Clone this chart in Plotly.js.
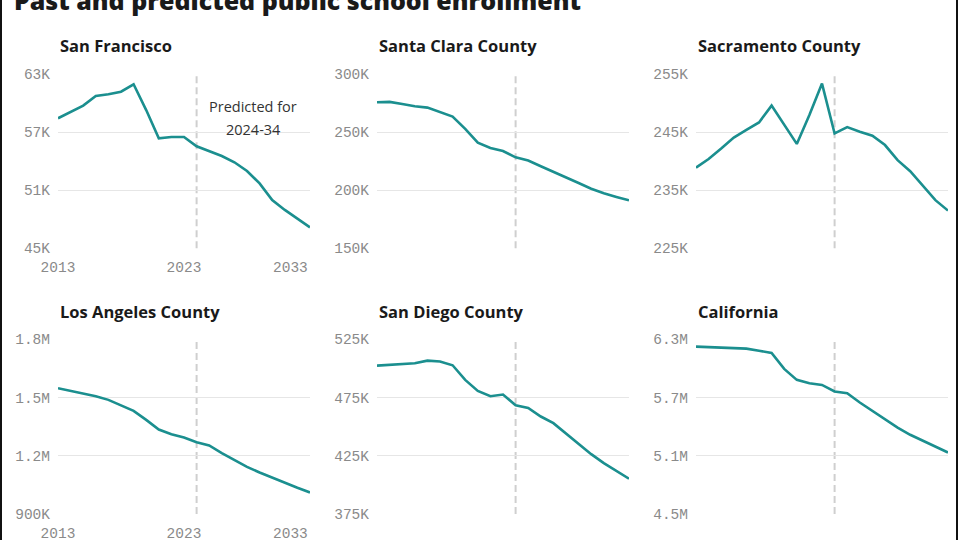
<!DOCTYPE html>
<html><head><meta charset="utf-8">
<script src="https://cdn.plot.ly/plotly-3.0.1.min.js"></script>
<style>html,body{margin:0;padding:0;background:#fff}#chart{width:960px;height:540px}</style>
</head><body><div id="chart"></div>
<script>
const chartTitle = "Past and predicted public school enrollment";
const years = [2013,2014,2015,2016,2017,2018,2019,2020,2021,2022,2023,2024,2025,2026,2027,2028,2029,2030,2031,2032,2033];
const predictionStart = 2024;
const predictionNoteLines = ["Predicted for", "2024-34"];
const panelTitles = ["San Francisco","Santa Clara County","Sacramento County","Los Angeles County","San Diego County","California"];

const sanFrancisco = [58450,59100,59760,60760,60930,61200,61970,59300,56380,56520,56520,55550,55070,54550,53900,53000,51720,50000,48970,48100,47170];
const santaClara = [275900,276200,274400,272400,271300,267500,263500,252900,241100,236500,233900,228400,225600,220700,216100,211200,206300,201400,197400,194300,191400];
const sacramento = [238900,240400,242200,244100,245400,246700,249600,246300,243000,248000,253400,244800,245900,245100,244400,242800,240200,238300,235800,233300,231500];
const losAngeles = [1548000,1534000,1519000,1507000,1488000,1461000,1431000,1385000,1335000,1311000,1294000,1270000,1253000,1214000,1178000,1143000,1114000,1087000,1061000,1035000,1011000];
const sanDiego = [502400,503000,503600,504400,506700,505900,502700,490100,480700,476100,477600,468400,466100,458700,453000,444400,435300,426400,418700,412100,405300];
const california = [6225000,6221000,6214000,6214000,6204000,6183000,6159000,5995000,5882000,5847000,5830000,5762000,5745000,5649000,5563000,5477000,5391000,5316000,5254000,5193000,5134000];

const yTickVals = [[45000,51000,57000,63000],[150000,200000,250000,300000],[225000,235000,245000,255000],[900000,1200000,1500000,1800000],[375000,425000,475000,525000],[4500000,5100000,5700000,6300000]];
const yTickText = [["45K","51K","57K","63K"],["150K","200K","250K","300K"],["225K","235K","245K","255K"],["900K","1.2M","1.5M","1.8M"],["375K","425K","475K","525K"],["4.5M","5.1M","5.7M","6.3M"]];
const xTickVals = [2013, 2023];
const xTickText = ["2013","2023"];
const lastYearLabel = "2033";
const lastYear = 2033;

const series = [sanFrancisco, santaClara, sacramento, losAngeles, sanDiego, california];

const W = 960, H = 540;
const colX = [[58,310],[377,629],[696,948]];
const rowY = [[74.3,248.3],[339.3,514]];
const titleY = [46, 312];
const xLabelY = [268, 534];
const teal = '#1b8f8f';
const tickFont = {family:'Liberation Mono, monospace', size:14.5, color:'#8a8a8a'};

const traces = [];
const layout = {
  width: W, height: H,
  margin: {l:0, r:0, t:0, b:0},
  paper_bgcolor: '#fff', plot_bgcolor: '#fff',
  showlegend: false,
  annotations: [], shapes: []
};

series.forEach((vals, i) => {
  const n = i + 1;
  const sfx = n === 1 ? '' : String(n);
  const col = i % 3, row = Math.floor(i / 3);
  traces.push({
    x: years, y: vals, type: 'scatter', mode: 'lines',
    xaxis: 'x' + sfx, yaxis: 'y' + sfx,
    line: {color: teal, width: 2.6}, hoverinfo: 'skip'
  });
  const tv = yTickVals[i];
  layout['xaxis' + sfx] = {
    domain: [colX[col][0]/W, colX[col][1]/W],
    range: [years[0], years[years.length-1]],
    anchor: 'y' + sfx,
    showgrid: false, zeroline: false, showline: false,
    tickvals: xTickVals, ticktext: xTickText,
    showticklabels: col === 0, ticks: '',
    ticklabelstandoff: 8,
    tickfont: tickFont, fixedrange: true
  };
  layout['yaxis' + sfx] = {
    domain: [1 - rowY[row][1]/H, 1 - rowY[row][0]/H],
    range: [tv[0], tv[tv.length-1]],
    anchor: 'x' + sfx,
    tickvals: tv, ticktext: yTickText[i],
    showgrid: true, gridcolor: '#e6e6e6', gridwidth: 1,
    zeroline: false, showline: false, ticks: '',
    ticklabelstandoff: 7,
    tickfont: tickFont, fixedrange: true
  };
  layout.shapes.push({
    type: 'line', xref: 'x' + sfx, yref: 'y' + sfx + ' domain',
    x0: predictionStart, x1: predictionStart, y0: 0, y1: 1,
    line: {color: '#cfcfcf', width: 2, dash: '7px,4px'}, layer: 'below'
  });
  layout.annotations.push({
    text: panelTitles[i], xref: 'paper', yref: 'paper',
    x: colX[col][0]/W, y: 1 - titleY[row]/H, xanchor: 'left', yanchor: 'middle',
    showarrow: false,
    font: {family: 'Open Sans, sans-serif', size: 16.5, weight: 700, color: '#1a1a1a'}
  });
  if (col === 0) {
    layout.annotations.push({
      text: lastYearLabel, xref: 'x' + sfx, yref: 'paper',
      x: lastYear, y: 1 - xLabelY[row]/H, xanchor: 'right', yanchor: 'middle',
      showarrow: false, font: tickFont
    });
  }
});

predictionNoteLines.forEach((t, k) => {
  layout.annotations.push({
    text: t, xref: 'x', yref: 'paper',
    x: 2028.5, y: 1 - (106 + 24*k)/H, xanchor: 'center', yanchor: 'middle',
    showarrow: false,
    font: {family: 'Open Sans, sans-serif', size: 14.5, color: '#333'}
  });
});

layout.annotations.push({
  text: chartTitle, xref: 'paper', yref: 'paper',
  x: 12/W, y: 1.0, xanchor: 'left', yanchor: 'middle',
  showarrow: false,
  font: {family: 'Open Sans, sans-serif', size: 25, weight: 800, color: '#1a1a1a'}
});

layout.shapes.push({type:'line', xref:'paper', yref:'paper', x0:1/W, x1:1/W, y0:0, y1:1, line:{color:'#111', width:2}, layer:'above'});
layout.shapes.push({type:'line', xref:'paper', yref:'paper', x0:957/W, x1:957/W, y0:0, y1:1, line:{color:'#111', width:2}, layer:'above'});

Plotly.newPlot('chart', traces, layout, {displayModeBar: false, staticPlot: true});
</script>
</body></html>
